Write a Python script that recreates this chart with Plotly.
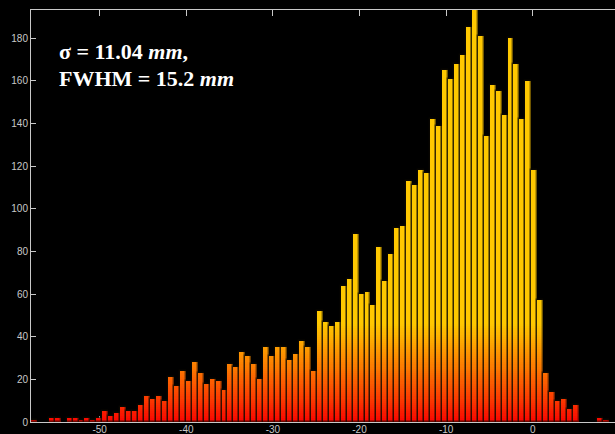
import numpy as np
import plotly.graph_objects as go

# ---- data ----
bin_start = -57.95          # left edge of first bin (mm)
bin_width = 0.688           # mm
counts = [1, 0, 0, 2, 2, 0, 2, 2, 1, 2,
          1, 2, 5, 3, 4, 7, 5, 5, 8, 12,
          11, 12, 10, 21, 17, 24, 19, 28, 23, 18,
          20, 19, 15, 27, 26, 33, 31, 27, 20, 35,
          31, 35, 35, 29, 32, 38, 35, 24, 52, 47,
          45, 47, 64, 67, 88, 60, 61, 55, 82, 66,
          79, 91, 92, 113, 111, 118, 117, 142, 139, 165,
          161, 168, 172, 185, 196, 181, 134, 158, 155, 144,
          180, 168, 142, 160, 118, 57, 23, 14, 10, 11,
          6, 8, 0, 0, 0, 2, 1, 0]
x_ticks = [-50, -40, -30, -20, -10, 0]
y_ticks = [0, 20, 40, 60, 80, 100, 120, 140, 160, 180]
x_range = [-57.93, 9.50]
y_range = [0, 193.2]
line1 = "<b>σ = 11.04 <i>mm</i>,</b>"
line2 = "<b>FWHM = 15.2 <i>mm</i></b>"

counts = np.array(counts, dtype=float)
centers = bin_start + bin_width * (np.arange(len(counts)) + 0.5)

# ---- gradient colour (red at bottom -> gold at top) ----
GRAD_TOP = 46.0
N_SLICES = 46
def grad_color(v):
    t = min(max(v / GRAD_TOP, 0.0), 1.0)
    g = 200 * t ** 0.85
    r = 250 + 5 * t
    return f"rgb({int(r)},{int(g)},0)"

fig = go.Figure()
step = GRAD_TOP / N_SLICES
for i in range(N_SLICES + 1):
    lo = i * step
    h = np.clip(counts - lo, 0, None)
    fig.add_trace(go.Bar(
        x=centers, y=h, base=lo, width=bin_width,
        marker=dict(color=grad_color(lo + step / 2), line=dict(width=0)),
        hoverinfo="skip", showlegend=False))

# outlines
fig.add_trace(go.Bar(
    x=centers, y=[c if c > 0 else None for c in counts], base=0, width=bin_width,
    marker=dict(color="rgba(0,0,0,0)", line=dict(color="rgba(15,10,0,0.6)", width=1.4)),
    showlegend=False))

W, H = 615, 434
ml, mt, mb, mr = 31, 10, 12, 0
pw, ph = W - ml - mr, H - mt - mb

def px_to_paper(px, py):
    return (px - ml) / pw, 1 - (py - mt) / ph

axis_common = dict(showgrid=False, zeroline=False, showline=True, linecolor="#c8c8c8",
                   linewidth=1, ticks="inside", tickcolor="#c8c8c8", ticklen=6,
                   tickfont=dict(family="Liberation Sans, Arial, sans-serif", size=10, color="#c8c8c8"),
                   layer="below traces", automargin=False)

fig.update_layout(
    width=W, height=H,
    margin=dict(l=ml, r=mr, t=mt, b=mb, pad=0, autoexpand=False),
    paper_bgcolor="black", plot_bgcolor="black",
    barmode="overlay", bargap=0,
    xaxis=dict(range=x_range, tickvals=x_ticks, ticktext=[str(v) for v in x_ticks],
               mirror="ticks", ticklabelstandoff=-2, **axis_common),
    yaxis=dict(range=y_range, tickvals=y_ticks, ticktext=[str(v) for v in y_ticks],
               mirror=False, **axis_common),
    font=dict(color="white"),
)
fig.update_yaxes(ticklen=5)

for txt, (px, py) in [(line1, (57, 52)), (line2, (57, 78))]:
    ax, ay = px_to_paper(px, py)
    fig.add_annotation(x=ax, y=ay, xref="paper", yref="paper", text=txt, showarrow=False,
                       xanchor="left", yanchor="middle",
                       font=dict(family="Liberation Serif, Times New Roman, serif", size=22, color="white"))

fig.write_html("out.html", config={"displayModeBar": False},
               post_script="document.body.style.margin='0';document.body.style.background='black';")
